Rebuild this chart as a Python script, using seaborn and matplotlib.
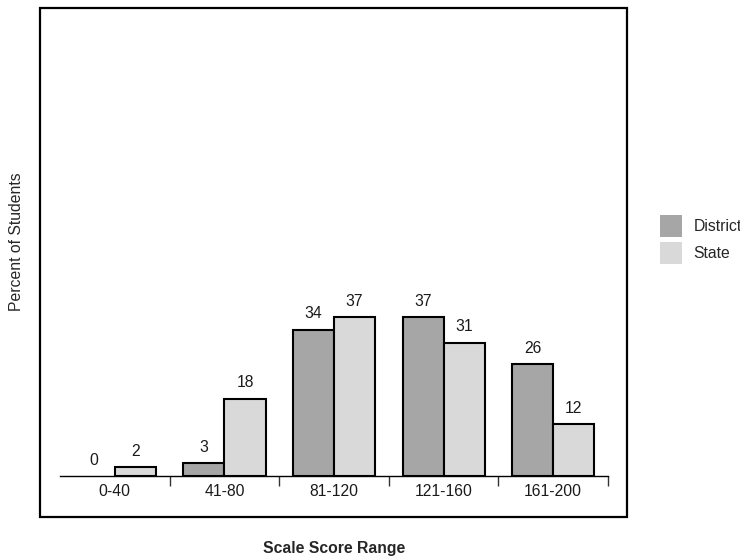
import pandas as pd
import numpy as np
import matplotlib
matplotlib.use("Agg")
import matplotlib.pyplot as plt
import seaborn as sns
from matplotlib.patches import Rectangle, Patch

# Data
ranges = ['0-40', '41-80', '81-120', '121-160', '161-200']
district = [0, 3, 34, 37, 26]
state = [2, 18, 37, 31, 12]
groups = ['District', 'State']

df = pd.DataFrame({
    'range': ranges * 2,
    'group': ['District'] * len(ranges) + ['State'] * len(ranges),
    'pct': district + state,
})

sns.set_style("white")
plt.rcParams['font.family'] = ['Liberation Sans', 'DejaVu Sans']
fs = 11.3
plt.rcParams['font.size'] = fs

palette = {'District': '#a6a6a6', 'State': '#d9d9d9'}

fig = plt.figure(figsize=(7.4, 5.56), dpi=100)
ax = fig.add_axes([60/740, 1 - 476/556, 548/740, 430/556])

sns.barplot(data=df, x='range', y='pct', hue='group', order=ranges, hue_order=groups,
            palette=palette, width=0.75, edgecolor='black', linewidth=1.5,
            saturation=1, legend=False, ax=ax)

# empty bars show no outline
for p in ax.patches:
    if p.get_height() == 0:
        p.set_linewidth(0)

for cont in ax.containers:
    ax.bar_label(cont, fmt='%d', padding=6, fontsize=fs, color='#1a1a1a')

ax.set_ylim(0, 100)
ax.set_xlim(-0.5, len(ranges) - 0.5)
ax.set_xlabel('')
ax.set_ylabel('')
ax.set_yticks([])
for s in ['left', 'top', 'right']:
    ax.spines[s].set_visible(False)
ax.spines['bottom'].set_color('black')
ax.spines['bottom'].set_linewidth(1.0)

# category boundary ticks
ax.set_xticks(np.arange(len(ranges)))
ax.set_xticklabels(ranges)
ax.set_xticks(np.arange(len(ranges)) + 0.5, minor=True)
ax.tick_params(axis='x', which='major', length=0, pad=6, labelsize=fs, labelcolor='#1a1a1a')
ax.tick_params(axis='x', which='minor', length=7, width=1.0, color='#333333', direction='out', bottom=True)

# legend outside the plot
handles = [Patch(facecolor=palette[g], edgecolor='none') for g in groups]
fig.legend(handles, groups, loc='center left', bbox_to_anchor=(652/740, 1 - 239.5/556),
           frameon=False, borderpad=0, handlelength=1.40, handleheight=1.78,
           handletextpad=0.76, labelspacing=0.32, fontsize=fs)

# axis titles
fig.text(17/740, 1 - 242/556, 'Percent of Students', rotation=90, ha='center', va='center', fontsize=fs)
fig.text(334/740, 1 - 548/556, 'Scale Score Range', ha='center', va='center', fontsize=fs, weight='bold')

# outer frame
fig.patches.append(Rectangle((40/740, 1 - 517/556), 587/740, 509/556, transform=fig.transFigure,
                             fill=False, edgecolor='black', linewidth=1.6, figure=fig))

plt.savefig('out.png', dpi=100)
plt.close()
